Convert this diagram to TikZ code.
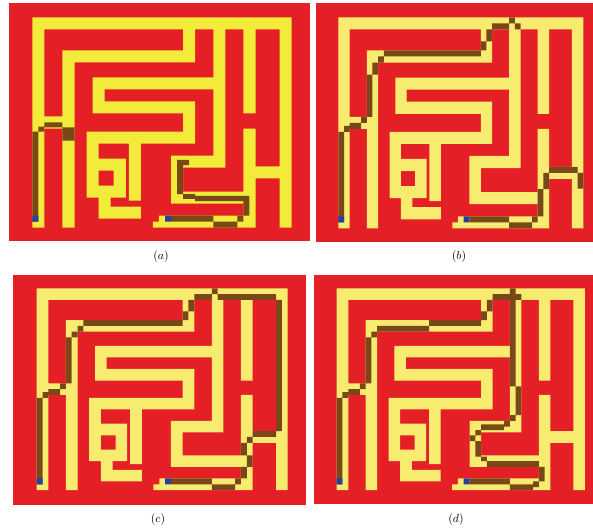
\documentclass[tikz,border=0pt]{standalone}
\usetikzlibrary{calc}
\definecolor{wallred}{RGB}{229,31,38}
\definecolor{brightyellow}{RGB}{242,235,58}
\definecolor{paleyellow}{RGB}{247,236,112}
\definecolor{trailbrown}{RGB}{122,72,24}
\definecolor{startblue}{RGB}{42,62,160}
\tikzset{
  wall/.style={fill=wallred},
  trail/.style={fill=trailbrown},
  goal/.style={fill=startblue},
}
\newcommand{\drawmaze}[1]{%
  \fill[#1] (0,0) rectangle (43,2) (0,0) rectangle (2,35) (41,0) rectangle (43,35)
    (5,5.5) rectangle (7,35) (5,5.5) rectangle (27,7.5) (25,0) rectangle (27,7.5)
    (30,0) rectangle (32,25) (35,0) rectangle (37,16) (0,16.5) rectangle (7,18.5)
    (10,10) rectangle (32,12) (10,10) rectangle (12,16) (10,14) rectangle (27,16)
    (25,14) rectangle (27,21) (9,19) rectangle (27,21) (9,19) rectangle (11,30)
    (9,23.5) rectangle (15.5,25.5) (13.5,23.5) rectangle (15.5,30) (9,28) rectangle (15.5,30)
    (11,28) rectangle (13,33.5) (11,31.5) rectangle (18,33.5) (16,19) rectangle (18,30.5)
    (23,23) rectangle (32,25) (23,23) rectangle (25,31) (23,29) rectangle (37,31)
    (35,18.5) rectangle (37,35) (37,24.8) rectangle (41,26.8)
    (21,33) rectangle (37,35) (20,34) rectangle (21,35);}
\newcommand{\startcells}{\fill[goal] (0,33) rectangle (1,34) (22,33) rectangle (23,34);}

\begin{document}
\begin{tikzpicture}[x=0.03cm,y=-0.03cm]
\useasboundingbox (0,0) rectangle (593,529);

\fill[wall] (9,3) rectangle (310,241);
\begin{scope}[shift={(32.3,17.3)},xscale=6.033,yscale=6.011]
\drawmaze{brightyellow}
\fill[trail] (0,19) rectangle (1,34) (1,18.2) rectangle (2,19) (2,17.5) rectangle (5,18.3)
  (5,18.3) rectangle (7,20.5)
  (23,33) rectangle (30,34) (30,34) rectangle (34,35) (34,33) rectangle (35,34)
  (35,30.4) rectangle (36,33) (27,29.7) rectangle (36,30.6) (25,29.4) rectangle (27,30.2)
  (24,24.6) rectangle (25,29.4) (24,23.7) rectangle (26,24.6);
\startcells
\end{scope}

\fill[wall] (316,3) rectangle (593,242);
\begin{scope}[shift={(338.3,17.3)},xscale=5.698,yscale=6.029]
\drawmaze{paleyellow}
\fill[trail] (0,19) rectangle (1,34) (1,18) rectangle (2,19) (2,17.5) rectangle (4,18.5)
  (4,16.5) rectangle (5,17.5) (5,9.5) rectangle (6,16.5) (6,7.5) rectangle (7,9.5)
  (7,6.5) rectangle (8,7.5) (8,5.5) rectangle (25,6.5) (25,4) rectangle (26,5.5)
  (26,2) rectangle (27,4) (27,1) rectangle (30,2) (30,0) rectangle (31,1) (31,1) rectangle (32,2)
  (23,33) rectangle (30,34) (30,34) rectangle (34,35) (34,33) rectangle (35,34)
  (35,28.5) rectangle (36,33) (36,25.8) rectangle (37,28.5) (37,24.8) rectangle (42,25.8)
  (42,25.8) rectangle (43,28.4);
\startcells
\end{scope}

\fill[wall] (13,275) rectangle (305.5,504.5);
\begin{scope}[shift={(36.7,288.3)},xscale=5.837,yscale=5.763]
\drawmaze{paleyellow}
\fill[trail] (0,19) rectangle (1,34) (1,18) rectangle (2,19) (2,17.5) rectangle (4,18.5)
  (4,16.5) rectangle (5,17.5) (5,8.5) rectangle (6,16.5) (6,7.5) rectangle (7,8.5)
  (7,6.5) rectangle (8,7.5) (8,5.5) rectangle (25,6.5) (25,4) rectangle (26,5.5)
  (26,2) rectangle (27,4) (27,1) rectangle (30,2) (30,0) rectangle (31,1) (31,1) rectangle (41,2)
  (41,2) rectangle (42,24.8) (37,24.8) rectangle (41,25.8) (36,25.8) rectangle (37,26.8)
  (35,26.8) rectangle (36,29) (36,29) rectangle (37,31) (35,31) rectangle (36,33)
  (34,33) rectangle (35,34) (30,34) rectangle (34,35) (23,33) rectangle (30,34);
\startcells
\end{scope}

\fill[wall] (314,274.5) rectangle (593,503.5);
\begin{scope}[shift={(336.7,288.3)},xscale=5.774,yscale=5.763]
\drawmaze{paleyellow}
\fill[trail] (0,19) rectangle (1,34) (1,18) rectangle (2,19) (2,17.5) rectangle (4,18.5)
  (4,16.5) rectangle (5,17.5) (5,8.5) rectangle (6,16.5) (6,7.5) rectangle (7,8.5)
  (7,6.5) rectangle (16,7.5) (16,5.5) rectangle (25,6.5) (25,4) rectangle (26,5.5)
  (26,2) rectangle (27,4) (27,1) rectangle (32,2) (30,0) rectangle (31,17)
  (31,17) rectangle (32,22) (30,22) rectangle (31,23) (29,23) rectangle (30,24)
  (25,23.6) rectangle (29,24.6) (24,24.6) rectangle (25,25.5) (23,25.5) rectangle (24,26.5)
  (24,26.5) rectangle (25,29.2) (25,29.2) rectangle (26,30) (26,30) rectangle (35,31)
  (35,31) rectangle (36,33.5) (34,33.5) rectangle (35,34.5) (30,34) rectangle (34,35)
  (23,33) rectangle (30,34);
\startcells
\end{scope}

\node (capa) at (161,257) {$(a)$};
\node (capb) at (459,257) {$(b)$};
\node (capc) at (158,520) {$(c)$};
\node (capd) at (456,520) {$(d)$};
\end{tikzpicture}
\end{document}
